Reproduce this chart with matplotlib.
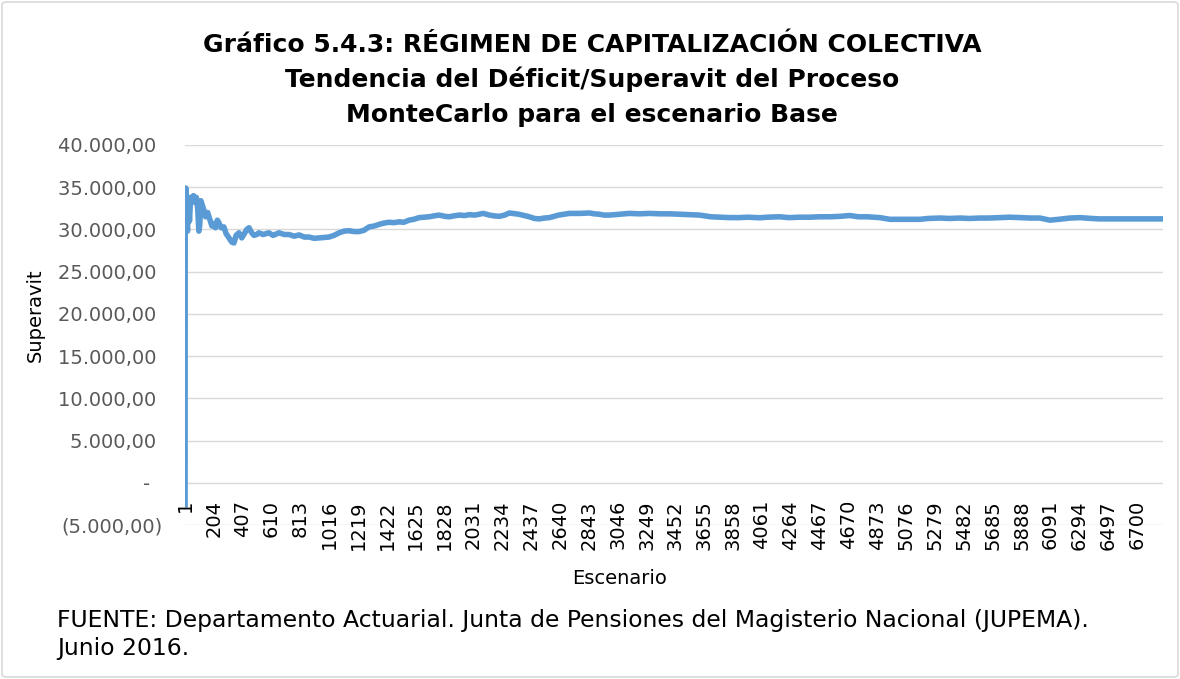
import matplotlib
matplotlib.use("Agg")
import matplotlib.pyplot as plt
from matplotlib.ticker import FuncFormatter, MultipleLocator
from matplotlib.patches import FancyBboxPatch
from matplotlib.transforms import blended_transform_factory

# ---- data ----
scenario = [1, 2, 6, 12, 18, 24, 32, 40, 50, 60, 70, 80, 90, 98, 104, 112, 120, 133,
            145, 160, 175, 190, 204, 215, 228, 239, 255, 274, 290, 310, 330, 345, 360,
            380, 400, 415, 435, 451, 470, 486, 505, 521, 550, 591, 620, 662, 700, 732,
            770, 803, 840, 873, 910, 944, 980, 1014, 1050, 1085, 1120, 1155, 1190, 1226,
            1260, 1296, 1330, 1367, 1400, 1437, 1470, 1508, 1540, 1578, 1610, 1649, 1680,
            1719, 1750, 1790, 1830, 1860, 1890, 1931, 1970, 2001, 2040, 2072, 2100, 2142,
            2180, 2213, 2250, 2283, 2350, 2424, 2460, 2494, 2530, 2565, 2630, 2706, 2780,
            2847, 2880, 2917, 2950, 2988, 3060, 3129, 3200, 3270, 3340, 3411, 3480, 3552,
            3622, 3700, 3760, 3833, 3900, 3960, 4045, 4100, 4186, 4250, 4327, 4400, 4468,
            4540, 4609, 4679, 4740, 4800, 4891, 4961, 5040, 5100, 5172, 5230, 5313, 5380,
            5454, 5520, 5595, 5660, 5736, 5806, 5880, 5950, 6017, 6087, 6150, 6228, 6300,
            6380, 6440, 6520, 6600, 6700, 6800, 6883]
superavit = [-2600, 31200, 34900, 32000, 29800, 33500, 31000, 33800, 33600, 34000, 33200,
             33800, 32500, 29800, 30500, 33400, 33000, 32300, 31500, 32000, 31200, 30400,
             30700, 30200, 31100, 30800, 30200, 30300, 29500, 29000, 28500, 28400, 29300,
             29600, 29000, 29400, 30000, 30200, 29600, 29300, 29400, 29600, 29400, 29600,
             29300, 29600, 29400, 29400, 29200, 29350, 29100, 29100, 28950, 29000, 29050,
             29100, 29300, 29600, 29800, 29850, 29750, 29750, 29900, 30300, 30400, 30600,
             30750, 30850, 30800, 30900, 30850, 31100, 31200, 31400, 31450, 31500, 31600,
             31700, 31550, 31500, 31600, 31700, 31650, 31750, 31700, 31800, 31900, 31700,
             31600, 31550, 31700, 31950, 31800, 31500, 31300, 31250, 31350, 31400, 31700,
             31900, 31900, 31950, 31850, 31800, 31700, 31700, 31800, 31900, 31850, 31900,
             31850, 31850, 31800, 31750, 31700, 31500, 31450, 31400, 31400, 31450, 31380,
             31450, 31500, 31400, 31450, 31450, 31500, 31500, 31550, 31650, 31500, 31500,
             31400, 31200, 31200, 31200, 31200, 31300, 31350, 31300, 31350, 31300, 31350,
             31350, 31400, 31450, 31400, 31350, 31350, 31100, 31200, 31350, 31400, 31300,
             31250, 31250, 31250, 31250, 31250, 31250]
n_scenarios = 6883
x_tick_values = list(range(1, 6701, 203))
x_tick_labels = [str(v) for v in x_tick_values]

title_lines = ["Gráfico 5.4.3: RÉGIMEN DE CAPITALIZACIÓN COLECTIVA",
               "Tendencia del Déficit/Superavit del Proceso",
               "MonteCarlo para el escenario Base"]
source_lines = ["FUENTE: Departamento Actuarial. Junta de Pensiones del Magisterio Nacional (JUPEMA).",
                "Junio 2016."]

plt.rcParams['font.family'] = ['DejaVu Sans']

W, H = 1180, 679
fig = plt.figure(figsize=(W / 100, H / 100), dpi=100)
fig.patch.set_facecolor('white')

# border
fig.patches.append(FancyBboxPatch((2 / W, 2 / H), 1 - 4 / W, 1 - 4 / H,
                                  boxstyle="round,pad=0,rounding_size=0.004",
                                  transform=fig.transFigure, fill=False,
                                  edgecolor='#D9D9D9', linewidth=1.2))

ax = fig.add_axes([185 / W, 1 - 525 / H, (1163 - 185) / W, (525 - 145) / H])
ax.plot(scenario, superavit, color='#5B9BD5', linewidth=4, solid_joinstyle='round')
ax.set_xlim(0.5, n_scenarios + 0.5)
ax.set_ylim(-5000, 40000)
ax.yaxis.set_major_locator(MultipleLocator(5000))
ax.grid(axis='y', color='#D9D9D9', linewidth=1)
ax.set_axisbelow(True)
for s in ax.spines.values():
    s.set_visible(False)


def fmt(v, pos):
    if abs(v) < 1e-6:
        return "-  "
    s = f"{abs(v):,.2f}".replace(",", "X").replace(".", ",").replace("X", ".")
    if v < 0:
        return f"({s})"
    return s + " "


ax.yaxis.set_major_formatter(FuncFormatter(fmt))
ax.tick_params(axis='y', length=0, pad=16, labelsize=14, labelcolor='#595959')

# category labels, drawn rotated just above the bottom of the plot area
ax.set_xticks([])
trans = blended_transform_factory(ax.transData, ax.transAxes)
label_top = (525 - 500) / (525 - 145)
for xv, lab in zip(x_tick_values, x_tick_labels):
    ax.text(xv, label_top, lab, transform=trans, rotation=90, ha='center', va='top',
            fontsize=14, color='#000000', clip_on=False)

fig.text(35 / W, 1 - 315 / H, "Superavit", rotation=90, ha='center', va='center',
         fontsize=14, color='#000000')
fig.text(620 / W, 1 - 578 / H, "Escenario", ha='center', va='center',
         fontsize=14, color='#000000')

for line, yb in zip(title_lines, [52, 87, 122]):
    fig.text(592 / W, 1 - yb / H, line, ha='center', va='baseline',
             fontsize=18, fontweight='bold', color='#000000')

for line, yc in zip(source_lines, [620, 648]):
    fig.text(57 / W, 1 - yc / H, line, ha='left', va='center', fontsize=16.9,
             color='#000000')

fig.savefig("out.png", dpi=100, facecolor='white')
